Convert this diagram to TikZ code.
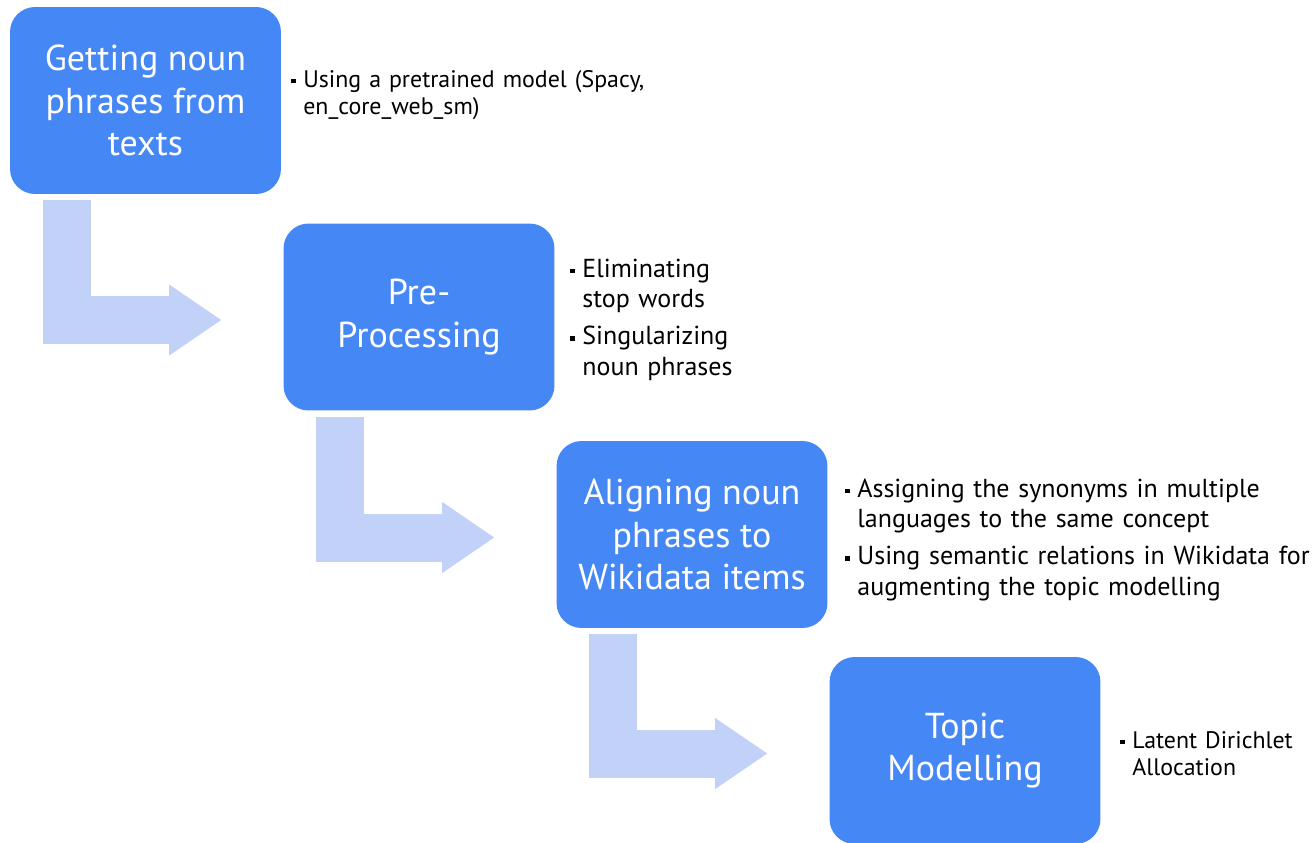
\documentclass[tikz,border=0pt]{standalone}
\usepackage{fontspec}
\setmainfont{PT Sans}
\usepackage{tikz}
\usetikzlibrary{arrows.meta}
\usetikzlibrary{calc}
\definecolor{stepblue}{HTML}{4587F4}
\definecolor{flowblue}{HTML}{C2D1F7}
\newcommand{\sqbullet}{\raisebox{0.3ex}{\rule{2.6pt}{2.6pt}}}
\newcommand{\bitem}[1]{\hangindent=0.24cm\hangafter=1\noindent\makebox[0.24cm][l]{\sqbullet}#1\par}
\tikzset{
stepbox/.style={shape=rectangle, rounded corners=0.5cm, fill=stepblue, text=white,
    minimum width=5.42cm, minimum height=3.74cm, align=center,
    font=\fontsize{20.5}{24.4}\selectfont},
notes/.style={anchor=base west, inner sep=0pt, text width=12cm, align=left,
    font=\fontsize{14.8}{17.6}\selectfont, execute at begin node={\setlength{\parskip}{3.4pt}}},
smallnotes/.style={notes, font=\fontsize{13.6}{15.9}\selectfont},
bentarrow/.style={draw=flowblue, line width=0.96cm,
    -{Triangle[length=1.04cm, width=1.42cm, line width=0pt]}, shorten >=1.24cm}}

\begin{document}
\begin{tikzpicture}[x=0.02cm, y=-0.02cm]

    \useasboundingbox (0,0) rectangle (1315,842);

                \node[stepbox] (getting) at (145.5,100.5) {Getting noun\\phrases from\\texts};
                \node[stepbox] (preproc) at (419,317) {Pre-\\Processing};
                \node[stepbox] (aligning) at (692,534.5) {Aligning noun\\phrases to\\Wikidata items};
                \node[stepbox] (topic) at (965,750.5) {Topic\\Modelling};

                \node[smallnotes] (gettingnote) at (291,87) {\bitem{Using a pretrained model (Spacy,\newline en\_core\_web\_sm)}};
                \node[notes] (preprocnote) at (570,277) {\bitem{Eliminating\newline stop words}\bitem{Singularizing\newline noun phrases}};
                \node[notes] (aligningnote) at (845,497) {\bitem{Assigning the synonyms in multiple\newline languages to the same concept}\bitem{Using semantic relations in Wikidata for\newline augmenting the topic modelling}};
                \node[smallnotes] (topicnote) at (1120,748) {\bitem{Latent Dirichlet\newline Allocation}};

                \draw[bentarrow] ($(getting.south west)+(57,6)$) |- ($(preproc.west)+(0,3)$);
                \draw[bentarrow] ($(preproc.south west)+(57,6)$) |- ($(aligning.west)+(0,3)$);
                \draw[bentarrow] ($(aligning.south west)+(57,6)$) |- ($(topic.west)+(0,3)$);

\end{tikzpicture}
\end{document}
